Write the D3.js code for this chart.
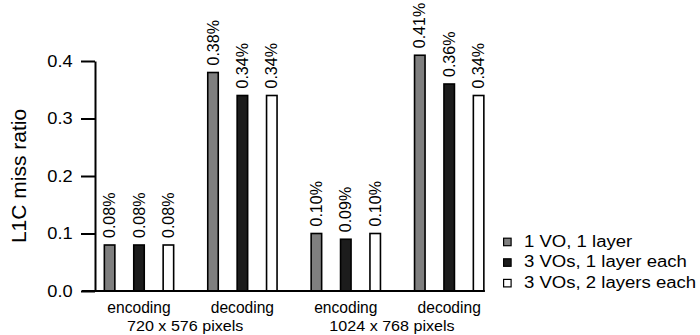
<!DOCTYPE html>
<html>
<head>
<meta charset="utf-8">
<script src="https://cdn.jsdelivr.net/npm/d3@7"></script>
<style>
  html, body { margin: 0; padding: 0; background: #fff; }
  svg { display: block; }
  text { font-family: "Liberation Sans", Arial, Helvetica, sans-serif; fill: #000; }
</style>
</head>
<body>
<svg id="chart" width="700" height="335"></svg>
<script>
// ---- data ----
const groups = ["enc720", "dec720", "enc1024", "dec1024"];
const groupLabels = ["encoding", "decoding", "encoding", "decoding"];
const resolutions = ["720 x 576 pixels", "1024 x 768 pixels"];
const series = ["1 VO, 1 layer", "3 VOs, 1 layer each", "3 VOs, 2 layers each"];
const oneVO = [0.08, 0.38, 0.10, 0.41];
const threeVO1 = [0.08, 0.34, 0.09, 0.36];
const threeVO2 = [0.08, 0.34, 0.10, 0.34];
const yTicks = [0.0, 0.1, 0.2, 0.3, 0.4];
const colors = ["#7f7f7f", "#1c1c1c", "#ffffff"];

const values = [oneVO, threeVO1, threeVO2];

const svg = d3.select("#chart");

const y = d3.scaleLinear().domain([0, 0.4]).range([291, 61]);
const x = d3.scaleBand().domain(groups).range([87.3, 500.9]).padding(0);
const xi = d3.scalePoint().domain(series).range([-29.4, 29.4]);
const barW = 10.5;
const cx = (g) => x(g) + x.bandwidth() / 2;

// y axis
const tickSX = 1.12;
const yAxis = d3.axisLeft(y)
  .tickValues(yTicks)
  .tickFormat(d3.format(".1f"))
  .tickSize(14)
  .tickSizeOuter(0)
  .tickPadding(8);
const ya = svg.append("g").attr("transform", "translate(95,0)").call(yAxis);
ya.select(".domain").attr("stroke", "#000").attr("stroke-width", 2);
ya.selectAll(".tick line").attr("stroke", "#000").attr("stroke-width", 2);
ya.selectAll(".tick text")
  .style("font-size", "16.3px")
  .attr("fill", "#000")
  .attr("x", -22.3 / tickSX)
  .attr("transform", "scale(" + tickSX + ",1)");

// y title
svg.append("text")
  .attr("transform", "translate(26," + ((y(0) + y(0.4)) / 2) + ") rotate(-90)")
  .attr("text-anchor", "middle")
  .style("font-size", "21px")
  .text("L1C miss ratio");

// bars
const flat = [];
series.forEach((s, si) => {
  groups.forEach((g, gi) => {
    flat.push({ s, si, g, gi, v: values[si][gi] });
  });
});

svg.append("g").selectAll("rect").data(flat).join("rect")
  .attr("x", d => cx(d.g) + xi(d.s) - barW / 2)
  .attr("y", d => y(d.v))
  .attr("width", barW)
  .attr("height", d => y(0) - y(d.v))
  .attr("fill", d => colors[d.si])
  .attr("stroke", "#000")
  .attr("stroke-width", 1.6);

// bar labels
const fmt = d3.format(".2f");
svg.append("g").selectAll("text").data(flat).join("text")
  .attr("transform", d => "translate(" + (cx(d.g) + xi(d.s) + 5.5) + "," + (y(d.v) - 7) + ") rotate(-90)")
  .attr("text-anchor", "start")
  .style("font-size", "16px")
  .text(d => fmt(d.v) + "%");

// baseline
svg.append("line")
  .attr("x1", 82).attr("x2", cx(groups[3]) + xi(series[2]) + barW / 2 + 1)
  .attr("y1", y(0)).attr("y2", y(0))
  .attr("stroke", "#000").attr("stroke-width", 2);

// group labels
svg.append("g").selectAll("text").data(groups).join("text")
  .attr("x", d => cx(d))
  .attr("y", 313)
  .attr("text-anchor", "middle")
  .style("font-size", "15.6px")
  .text((d, i) => groupLabels[i]);

// resolution labels
svg.append("g").selectAll("text").data(resolutions).join("text")
  .attr("transform", (d, i) => "translate(" + ((cx(groups[2 * i]) + cx(groups[2 * i + 1])) / 2 - 5.5) + ",330.5) scale(1.04,1)")
  .attr("text-anchor", "middle")
  .style("font-size", "15.5px")
  .text(d => d);

// legend
const lg = svg.append("g").attr("transform", "translate(503,0)");
series.forEach((s, i) => {
  const by = 246.7 + i * 20.6;
  lg.append("rect")
    .attr("x", 0.6).attr("y", by - 8.5)
    .attr("width", 7.5).attr("height", 7.5)
    .attr("fill", colors[i]).attr("stroke", "#000").attr("stroke-width", 1.2);
  lg.append("text")
    .attr("transform", "translate(21," + by + ") scale(1.16,1)")
    .style("font-size", "16px")
    .text(s);
});
</script>
</body>
</html>
